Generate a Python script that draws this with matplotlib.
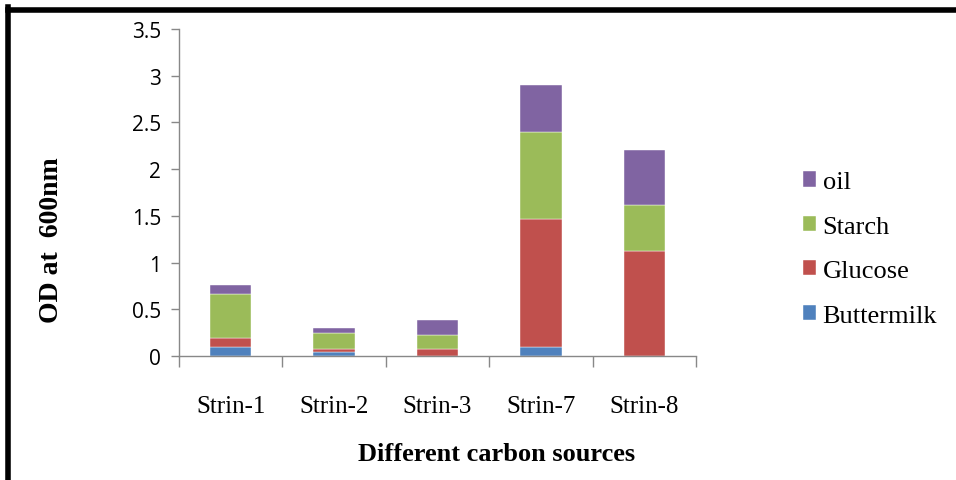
import matplotlib
matplotlib.use("Agg")
import matplotlib.pyplot as plt
import numpy as np
from matplotlib.lines import Line2D

categories = ["Strin-1", "Strin-2", "Strin-3", "Strin-7", "Strin-8"]
series_names = ["Buttermilk", "Glucose", "Starch", "oil"]
buttermilk = [0.10, 0.04, 0.0, 0.10, 0.0]
glucose = [0.09, 0.04, 0.07, 1.37, 1.12]
starch = [0.47, 0.17, 0.15, 0.93, 0.50]
oil = [0.10, 0.05, 0.16, 0.505, 0.59]
colors = ["#4F81BD", "#C0504D", "#9BBB59", "#8064A2"]
yticks = [0, 0.5, 1, 1.5, 2, 2.5, 3, 3.5]
ytick_labels = ["0", "0.5", "1", "1.5", "2", "2.5", "3", "3.5"]

W, H = 956, 481
fig = plt.figure(figsize=(W / 100, H / 100), dpi=100)
ax = fig.add_axes([179 / W, 1 - 357 / H, (696 - 179) / W, (357 - 30) / H])

x = np.arange(len(categories))
bottom = np.zeros(len(categories))
handles = []
for name, vals, c in zip(series_names, [buttermilk, glucose, starch, oil], colors):
    vals = np.array(vals)
    b = ax.bar(x, vals, width=0.4, bottom=bottom, color=c, label=name,
               edgecolor="white", linewidth=0.3)
    bottom += vals
    handles.append(b)

ax.set_xlim(-0.5, len(categories) - 0.5)
ax.set_ylim(0, 3.5)
ax.set_yticks(yticks)
ax.set_yticklabels(ytick_labels)
for lbl in ax.get_yticklabels():
    lbl.set_fontfamily("Open Sans")
    lbl.set_fontsize(15)
ax.set_xticks(x)
ax.set_xticklabels(categories, fontfamily="Liberation Serif", fontsize=18)
ax.tick_params(axis="x", length=0, pad=28)
ax.set_xticks(np.arange(len(categories) + 1) - 0.5, minor=True)
ax.tick_params(axis="x", which="minor", length=8, color="#888888", width=1)
ax.tick_params(axis="y", length=6, color="#888888", width=1, pad=7)
for s in ["top", "right"]:
    ax.spines[s].set_visible(False)
for s in ["left", "bottom"]:
    ax.spines[s].set_color("#888888")
    ax.spines[s].set_linewidth(1)

fig.text(52 / W, 1 - 240 / H, "OD at  600nm", rotation=90, ha="center", va="center",
         fontfamily="Liberation Serif", fontweight="bold", fontsize=20)
fig.text(497 / W, 1 - 455 / H, "Different carbon sources", ha="center", va="center",
         fontfamily="Liberation Serif", fontweight="bold", fontsize=19)

leg = fig.legend([h for h in handles[::-1]], series_names[::-1],
                 loc="center left", bbox_to_anchor=(779 / W, 1 - 250 / H),
                 frameon=False, prop={"family": "Liberation Serif", "size": 19},
                 handlelength=0.5, handleheight=0.5, handletextpad=0.25,
                 labelspacing=0.85)

# border lines
fig.add_artist(Line2D([7.5 / W, 7.5 / W], [0, 1 - 8 / H], transform=fig.transFigure,
                      color="black", linewidth=4, solid_capstyle="projecting"))
fig.add_artist(Line2D([7.5 / W, 1], [1 - 10.5 / H, 1 - 10.5 / H], transform=fig.transFigure,
                      color="black", linewidth=4))

fig.savefig("out.png", dpi=100)
